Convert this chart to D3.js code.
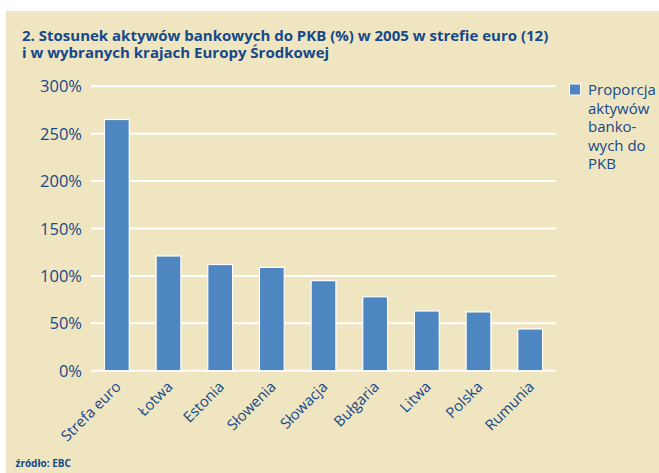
<!DOCTYPE html>
<html><head><meta charset="utf-8">
<script src="https://cdn.jsdelivr.net/npm/d3@7"></script>
<style>
html,body{margin:0;padding:0;background:#fff;}
svg{display:block;font-family:"Open Sans",sans-serif;}
</style></head>
<body><svg id="c" width="659" height="473"></svg>
<script>
const categories = ["Strefa euro","Łotwa","Estonia","Słowenia","Słowacja","Bułgaria","Litwa","Polska","Rumunia"];
const values = [265, 121, 112, 109, 95, 78, 63, 62, 44];
const yTicks = [0, 50, 100, 150, 200, 250, 300];
const titleLines = ["2. Stosunek aktywów bankowych do PKB (%) w 2005 w strefie euro (12)", "i w wybranych krajach Europy Środkowej"];
const legendLines = ["Proporcja", "aktywów", "banko-", "wych do", "PKB"];
const sourceText = "źródło: EBC";

const bg = "#f0e5c1", ink = "#15498a", barCol = "#4e86c1";
const svg = d3.select("#c");
svg.append("rect").attr("x",6).attr("y",11).attr("width",653).attr("height",462).attr("fill",bg);

const title = svg.append("text").attr("fill",ink).attr("font-weight","bold").attr("font-size",15);
titleLines.forEach((t,i)=>title.append("tspan").attr("x",22).attr("y",41+i*16.5).text(t));

const x = d3.scaleBand().domain(categories).range([91,556]).paddingInner(0.52).paddingOuter(0.26);
const y = d3.scaleLinear().domain([0,300]).range([370.7,86.3]);

const g = svg.append("g");
g.selectAll("line.grid").data(yTicks).join("line")
  .attr("x1",91).attr("x2",556).attr("y1",d=>y(d)).attr("y2",d=>y(d))
  .attr("stroke","#fff").attr("stroke-width",2);
g.selectAll("text.yl").data(yTicks).join("text")
  .attr("x",82).attr("y",d=>y(d)+6).attr("text-anchor","end")
  .attr("font-size",16.5).attr("fill",ink).text(d=>d+"%");

g.selectAll("rect.bar").data(values).join("rect")
  .attr("x",(d,i)=>x(categories[i])).attr("width",x.bandwidth())
  .attr("y",d=>y(d)).attr("height",d=>y(0)-y(d))
  .attr("fill",barCol).attr("stroke","#fff").attr("stroke-width",1.2);

g.selectAll("text.xl").data(categories).join("text")
  .attr("transform",d=>`translate(${x(d)+x.bandwidth()/2+5},${y(0)+17}) rotate(-45)`)
  .attr("text-anchor","end").attr("font-size",14.8).attr("fill",ink).text(d=>d);

svg.append("rect").attr("x",569.5).attr("y",84).attr("width",11).attr("height",11)
  .attr("fill",barCol).attr("stroke","#fff").attr("stroke-width",1);
const lg = svg.append("text").attr("fill",ink).attr("font-size",15);
legendLines.forEach((t,i)=>lg.append("tspan").attr("x",588).attr("y",95+i*18.5).text(t));

svg.append("text").attr("x",15.5).attr("y",466.5).attr("font-size",10).attr("font-weight","bold")
  .attr("fill",ink).text(sourceText);
</script></body></html>
